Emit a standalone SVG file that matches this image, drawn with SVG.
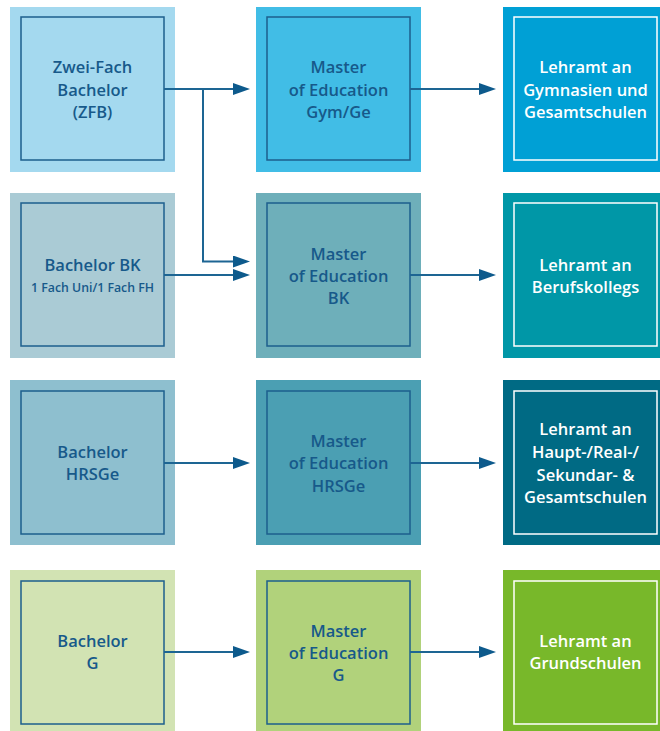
<svg xmlns="http://www.w3.org/2000/svg" width="660" height="731" viewBox="0 0 660 731">
<style>
.inner{fill:none;stroke:#1d5f8d;stroke-width:1.5}
.innerw{fill:none;stroke:#ffffff;stroke-width:1.5}
.t{font-family:"Open Sans","Noto Sans","Liberation Sans",sans-serif;font-size:16.5px;font-weight:600;fill:#17598a;text-anchor:middle}
.tw{font-family:"Open Sans","Noto Sans","Liberation Sans",sans-serif;font-size:16.5px;font-weight:600;fill:#ffffff;text-anchor:middle}
.ts{font-size:12.3px}
.c{fill:none;stroke:#1d6593;stroke-width:2}
</style>
<defs>
<marker id="ah" markerUnits="userSpaceOnUse" markerWidth="17" markerHeight="12" refX="9" refY="6" orient="auto">
<path d="M0,0 L17,6 L0,12 z" fill="#0d5a8c"/>
</marker>
</defs>
<rect width="660" height="731" fill="#ffffff"/>

<g id="zfb">
<rect x="10" y="7" width="165" height="165" fill="#a4d9ef"/>
<rect x="21" y="17" width="143" height="143" class="inner"/>
<text class="t" x="92.5" y="73">Zwei-Fach</text>
<text class="t" x="92.5" y="96">Bachelor</text>
<text class="t" x="92.5" y="118">(ZFB)</text>
</g>
<g id="med-gymge">
<rect x="256" y="7" width="165" height="165" fill="#41bde6"/>
<rect x="267" y="17" width="143" height="143" class="inner"/>
<text class="t" x="338.5" y="73">Master</text>
<text class="t" x="338.5" y="96">of Education</text>
<text class="t" x="338.5" y="118">Gym/Ge</text>
</g>
<g id="la-gymge">
<rect x="503" y="7" width="165" height="165" fill="#00a0d5"/>
<rect x="514" y="17" width="143" height="143" class="innerw"/>
<text class="tw" x="585.5" y="73">Lehramt an</text>
<text class="tw" x="585.5" y="96">Gymnasien und</text>
<text class="tw" x="585.5" y="118">Gesamtschulen</text>
</g>

<g id="ba-bk">
<rect x="10" y="193" width="165" height="165" fill="#aacbd5"/>
<rect x="21" y="203" width="143" height="143" class="inner"/>
<text class="t" x="92.5" y="271">Bachelor BK</text>
<text class="t ts" x="92.5" y="292">1 Fach Uni/1 Fach FH</text>
</g>
<g id="med-bk">
<rect x="256" y="193" width="165" height="165" fill="#6eafba"/>
<rect x="267" y="203" width="143" height="143" class="inner"/>
<text class="t" x="338.5" y="260">Master</text>
<text class="t" x="338.5" y="282">of Education</text>
<text class="t" x="338.5" y="304">BK</text>
</g>
<g id="la-bk">
<rect x="503" y="193" width="165" height="165" fill="#0097a7"/>
<rect x="514" y="203" width="143" height="143" class="innerw"/>
<text class="tw" x="585.5" y="271">Lehramt an</text>
<text class="tw" x="585.5" y="293">Berufskollegs</text>
</g>

<g id="ba-hrsge">
<rect x="10" y="380" width="165" height="165" fill="#8ebfcf"/>
<rect x="21" y="391" width="143" height="143" class="inner"/>
<text class="t" x="92.5" y="458">Bachelor</text>
<text class="t" x="92.5" y="480">HRSGe</text>
</g>
<g id="med-hrsge">
<rect x="256" y="380" width="165" height="165" fill="#4b9fb3"/>
<rect x="267" y="391" width="143" height="143" class="inner"/>
<text class="t" x="338.5" y="447">Master</text>
<text class="t" x="338.5" y="469">of Education</text>
<text class="t" x="338.5" y="492">HRSGe</text>
</g>
<g id="la-hrsge">
<rect x="503" y="380" width="165" height="165" fill="#006a84"/>
<rect x="514" y="391" width="143" height="143" class="innerw"/>
<text class="tw" x="585.5" y="435">Lehramt an</text>
<text class="tw" x="585.5" y="458">Haupt-/Real-/</text>
<text class="tw" x="585.5" y="481">Sekundar- &amp;</text>
<text class="tw" x="585.5" y="503">Gesamtschulen</text>
</g>

<g id="ba-g">
<rect x="10" y="570" width="165" height="165" fill="#d2e3b3"/>
<rect x="21" y="581" width="143" height="143" class="inner"/>
<text class="t" x="92.5" y="647">Bachelor</text>
<text class="t" x="92.5" y="669">G</text>
</g>
<g id="med-g">
<rect x="256" y="570" width="165" height="165" fill="#b1d27b"/>
<rect x="267" y="581" width="143" height="143" class="inner"/>
<text class="t" x="338.5" y="637">Master</text>
<text class="t" x="338.5" y="659">of Education</text>
<text class="t" x="338.5" y="681">G</text>
</g>
<g id="la-g">
<rect x="503" y="570" width="165" height="165" fill="#78b82a"/>
<rect x="514" y="581" width="143" height="143" class="innerw"/>
<text class="tw" x="585.5" y="647">Lehramt an</text>
<text class="tw" x="585.5" y="669">Grundschulen</text>
</g>

<g id="connectors">
<line class="c" x1="164" y1="89" x2="242" y2="89" marker-end="url(#ah)"/>
<polyline class="c" points="203,89 203,261.5 242,261.5" marker-end="url(#ah)"/>
<line class="c" x1="164" y1="275" x2="242" y2="275" marker-end="url(#ah)"/>
<line class="c" x1="164" y1="463" x2="242" y2="463" marker-end="url(#ah)"/>
<line class="c" x1="164" y1="652" x2="242" y2="652" marker-end="url(#ah)"/>
<line class="c" x1="410" y1="89" x2="488" y2="89" marker-end="url(#ah)"/>
<line class="c" x1="410" y1="275" x2="488" y2="275" marker-end="url(#ah)"/>
<line class="c" x1="410" y1="463" x2="488" y2="463" marker-end="url(#ah)"/>
<line class="c" x1="410" y1="652" x2="488" y2="652" marker-end="url(#ah)"/>
</g>
</svg>
